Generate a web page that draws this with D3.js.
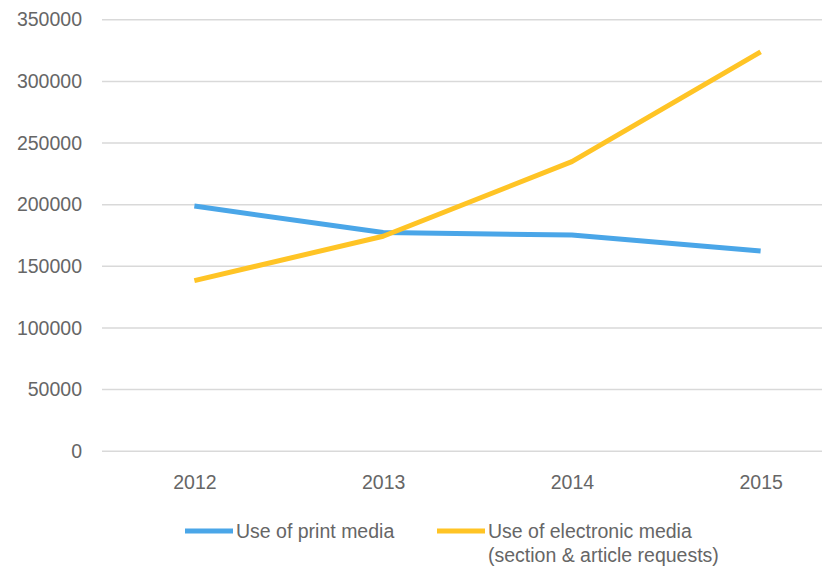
<!DOCTYPE html>
<html>
<head>
<meta charset="utf-8">
<script src="https://cdn.jsdelivr.net/npm/d3@7"></script>
<style>
	html, body { margin: 0; padding: 0; background: #fff; }
	svg { display: block; font-family: 'Liberation Sans', Arial, sans-serif; }
</style>
</head>
<body>
<svg id="chart" width="822" height="568"></svg>
<script>
const years = ['2012', '2013', '2014', '2015'];
const printMedia = [198500, 177000, 175000, 162000];
const electronicMedia = [138000, 174000, 234500, 323500];
const yTicks = [0, 50000, 100000, 150000, 200000, 250000, 300000, 350000];
const seriesNames = ['Use of print media', 'Use of electronic media'];
const seriesNote = '(section & article requests)';

const width = 822;
const height = 568;
const textColor = '#666666';
const gridColor = '#d9d9d9';
const colors = ['#4aa6e8', '#ffc425'];

const svg = d3.select('#chart');

const xScale = d3.scalePoint()
	.domain(years)
	.range([100, 855])
	.padding(0.5);

const yScale = d3.scaleLinear()
	.domain([0, 350000])
	.range([450.7, 19.3]);

// grid + y labels
const yAxis = d3.axisLeft(yScale)
	.tickValues(yTicks)
	.tickFormat(d3.format('d'))
	.tickSize(-(width - 102))
	.tickPadding(20);

const yG = svg.append('g')
	.attr('transform', 'translate(102,0)')
	.call(yAxis);

yG.select('.domain').remove();
yG.selectAll('.tick line')
	.attr('stroke', gridColor)
	.attr('stroke-width', 1.5);
yG.selectAll('.tick text')
	.attr('fill', textColor)
	.attr('font-size', 19.5)
	.attr('dy', '0.34em');

// x labels
const xAxis = d3.axisBottom(xScale).tickSize(0).tickPadding(24);
const xG = svg.append('g')
	.attr('transform', `translate(0,${yScale(0)})`)
	.call(xAxis);
xG.select('.domain').remove();
xG.selectAll('.tick text')
	.attr('fill', textColor)
	.attr('font-size', 19.5);

// lines
const line = d3.line()
	.x((d, i) => xScale(years[i]))
	.y(d => yScale(d));

[printMedia, electronicMedia].forEach((values, i) => {
	svg.append('path')
		.datum(values)
		.attr('fill', 'none')
		.attr('stroke', colors[i])
		.attr('stroke-width', 5)
		.attr('stroke-linejoin', 'round')
		.attr('d', line);
});

// legend
const legend = svg.append('g').attr('class', 'legend');
const legendX = [185, 437];

seriesNames.forEach((name, i) => {
	const g = legend.append('g').attr('transform', `translate(${legendX[i]},531)`);
	g.append('line')
		.attr('x1', 0).attr('x2', 48)
		.attr('stroke', colors[i])
		.attr('stroke-width', 5);
	g.append('text')
		.attr('x', 51)
		.attr('y', 7)
		.attr('fill', textColor)
		.attr('font-size', 19.5)
		.text(name);
	if (i === 1) {
		g.append('text')
			.attr('x', 51)
			.attr('y', 31)
			.attr('fill', textColor)
			.attr('font-size', 19.5)
			.text(seriesNote);
	}
});
</script>
</body>
</html>
